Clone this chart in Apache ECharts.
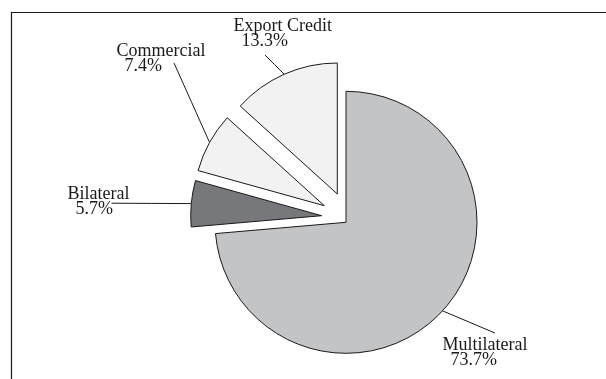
<!DOCTYPE html>
<html>
<head>
<meta charset="utf-8">
<script src="https://cdn.jsdelivr.net/npm/echarts@6/dist/echarts.min.js"></script>
<style>
  html, body { margin: 0; padding: 0; background: #ffffff; }
  #chart { width: 606px; height: 379px; }
</style>
</head>
<body>
<div id="chart"></div>
<script>
// Share of the total, in percent
const categories = ['Multilateral', 'Bilateral', 'Commercial', 'Export Credit'];
const shares = [73.7, 5.7, 7.4, 13.3];

// Look of each slice
const sliceColors = ['#c3c4c6', '#77787c', '#f2f2f2', '#f2f2f2'];

// Every slice is drawn by its own pie so it can be pulled out by its own amount
const sliceCenters = [[346, 222.3], [321.7, 215.7], [324.3, 205.7], [337.3, 194]];
const pieRadius = 131;

// Label blocks (top-left corner) and where each leader line meets its label
const labelBoxes = [[442.5, 338], [67.5, 186.5], [116.5, 43.5], [233.5, 19]];
const leaderEnds = [[495, 333], [111.5, 203.2], [174, 63], [265, 55]];

const ink = '#1a1a1a';
const serif = '"Liberation Serif", "Times New Roman", serif';

const series = categories.map(function (name, i) {
  return {
    type: 'pie',
    center: sliceCenters[i],
    radius: pieRadius,
    startAngle: 90,
    clockwise: true,
    avoidLabelOverlap: false,
    silent: true,
    animation: false,
    emphasis: { disabled: true },
    data: categories.map(function (n, j) {
      const own = j === i;
      return {
        name: n,
        value: shares[j],
        itemStyle: own
          ? { color: sliceColors[j], borderColor: ink, borderWidth: 1 }
          : { color: 'rgba(0,0,0,0)', borderWidth: 0 },
        label: { show: own },
        labelLine: { show: own }
      };
    }),
    label: {
      position: 'outside',
      formatter: function (p) {
        return '{n|' + p.name + '}\n{p|' + Number(p.value).toFixed(1) + '%}';
      },
      rich: {
        n: { fontFamily: serif, fontSize: 18, lineHeight: 15, color: ink },
        p: { fontFamily: serif, fontSize: 18, lineHeight: 15, color: ink, padding: [0, 0, 0, 8] }
      }
    },
    labelLine: {
      length: 10,
      length2: 10,
      lineStyle: { color: ink, width: 1 }
    },
    labelLayout: function (p) {
      if (p.dataIndex !== i) return;
      const start = p.labelLinePoints[0];
      const end = leaderEnds[i];
      const mid = [(start[0] + end[0]) / 2, (start[1] + end[1]) / 2];
      return {
        x: labelBoxes[i][0],
        y: labelBoxes[i][1],
        align: 'left',
        verticalAlign: 'top',
        labelLinePoints: [start, mid, end]
      };
    }
  };
});

const chart = echarts.init(document.getElementById('chart'), null, { renderer: 'canvas' });
chart.setOption({
  backgroundColor: '#ffffff',
  animation: false,
  graphic: [{
    type: 'rect',
    z: -1,
    shape: { x: 11.5, y: 12.5, width: 700, height: 500 },
    style: { fill: 'none', stroke: ink, lineWidth: 1.2 }
  }],
  series: series
});
</script>
</body>
</html>
